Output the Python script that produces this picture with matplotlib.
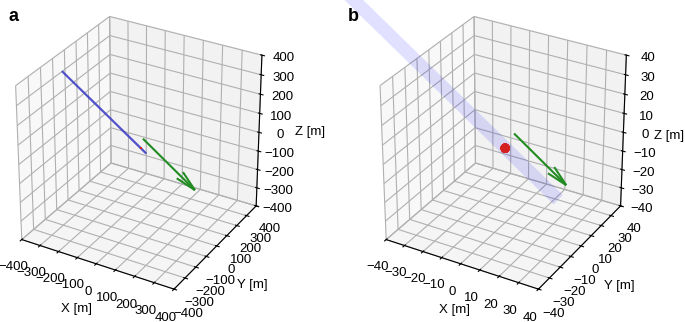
import matplotlib
matplotlib.use("Agg")
import matplotlib.pyplot as plt
import numpy as np

plt.rcParams["font.family"] = ["Liberation Sans", "DejaVu Sans"]

# track (blue tube), source (red sphere), fitted direction (green arrow)
track_start = [-400.0, -23.0, 300.0]
track_end = [27.0, 1.5, -20.0]
tube_radius = 3.0
source_pos = [0.0, 0.0, 0.0]
source_radius = 2.0

arrow_start_a = [0.0, 20.0, 40.0]
arrow_vec_a = [265.0, 13.0, -200.0]
arrow_start_b = [3.5, 2.0, 7.7]
arrow_vec_b = [26.5, 1.3, -20.0]

lim_a = 400
lim_b = 40
ticks_a = np.arange(-400, 401, 100)
ticks_b = np.arange(-40, 41, 10)
axis_labels = ["X [m]", "Y [m]", "Z [m]"]


def tube(p0, p1, r, n=24):
    p0 = np.array(p0)
    p1 = np.array(p1)
    d = p1 - p0
    d = d / np.linalg.norm(d)
    u = np.cross(d, [0, 0, 1.0])
    u = u / np.linalg.norm(u)
    v = np.cross(d, u)
    th = np.linspace(0, 2 * np.pi, n)
    t = np.array([0.0, 1.0])
    T, TH = np.meshgrid(t, th)
    pts = [p0[i] + (p1 - p0)[i] * T + r * (np.cos(TH) * u[i] + np.sin(TH) * v[i]) for i in range(3)]
    return pts


def sphere(c, r, n=16):
    ph, th = np.meshgrid(np.linspace(0, np.pi, n), np.linspace(0, 2 * np.pi, n))
    return (c[0] + r * np.sin(ph) * np.cos(th),
            c[1] + r * np.sin(ph) * np.sin(th),
            c[2] + r * np.cos(ph))


fig = plt.figure(figsize=(6.85, 3.22), dpi=100)

# name, limit, ticks, arrow, axes rect, tube alpha, tube edge width, label spots (fig coords)
panels = [("a", lim_a, ticks_a, arrow_start_a, arrow_vec_a, [-0.101, 0.016, 0.6, 1.02], 0.12, 0.6,
           [(0.112, 0.040), (0.369, 0.115), (0.453, 0.590)]),
          ("b", lim_b, ticks_b, arrow_start_b, arrow_vec_b, [0.431, 0.016, 0.6, 1.02], 0.06, 0,
           [(0.663, 0.037), (0.904, 0.112), (0.977, 0.578)])]

for name, lim, ticks, a0, av, rect, talpha, tlw, spots in panels:
    ax = fig.add_axes(rect, projection="3d", computed_zorder=False)
    ax.set_box_aspect((1, 1, 1), zoom=0.9)
    X, Y, Z = tube(track_start, track_end, tube_radius)
    ax.plot_surface(X, Y, Z, color="blue", alpha=talpha, linewidth=tlw,
                    edgecolor=(0.3, 0.3, 0.8, talpha), shade=False)
    X, Y, Z = sphere(source_pos, source_radius)
    ax.plot_surface(X, Y, Z, color="#d62020", linewidth=0.5, edgecolor="#d62020", shade=False)
    ax.quiver(a0[0], a0[1], a0[2], av[0], av[1], av[2], color="forestgreen",
              arrow_length_ratio=0.3, linewidth=1.5)
    ax.set_xlim(-lim, lim)
    ax.set_ylim(-lim, lim)
    ax.set_zlim(-lim, lim)
    ax.set_xticks(ticks)
    ax.set_yticks(ticks)
    ax.set_zticks(ticks)
    ax.tick_params(labelsize=9.5)
    # axis labels kept upright, placed like the original
    for lab, (fx, fy) in zip(axis_labels, spots):
        fig.text(fx, fy, lab, fontsize=9.5, ha="center", va="center")

fig.text(0.012, 0.935, "a", fontsize=13, fontweight="bold")
fig.text(0.508, 0.935, "b", fontsize=13, fontweight="bold")

plt.savefig("out.png")
